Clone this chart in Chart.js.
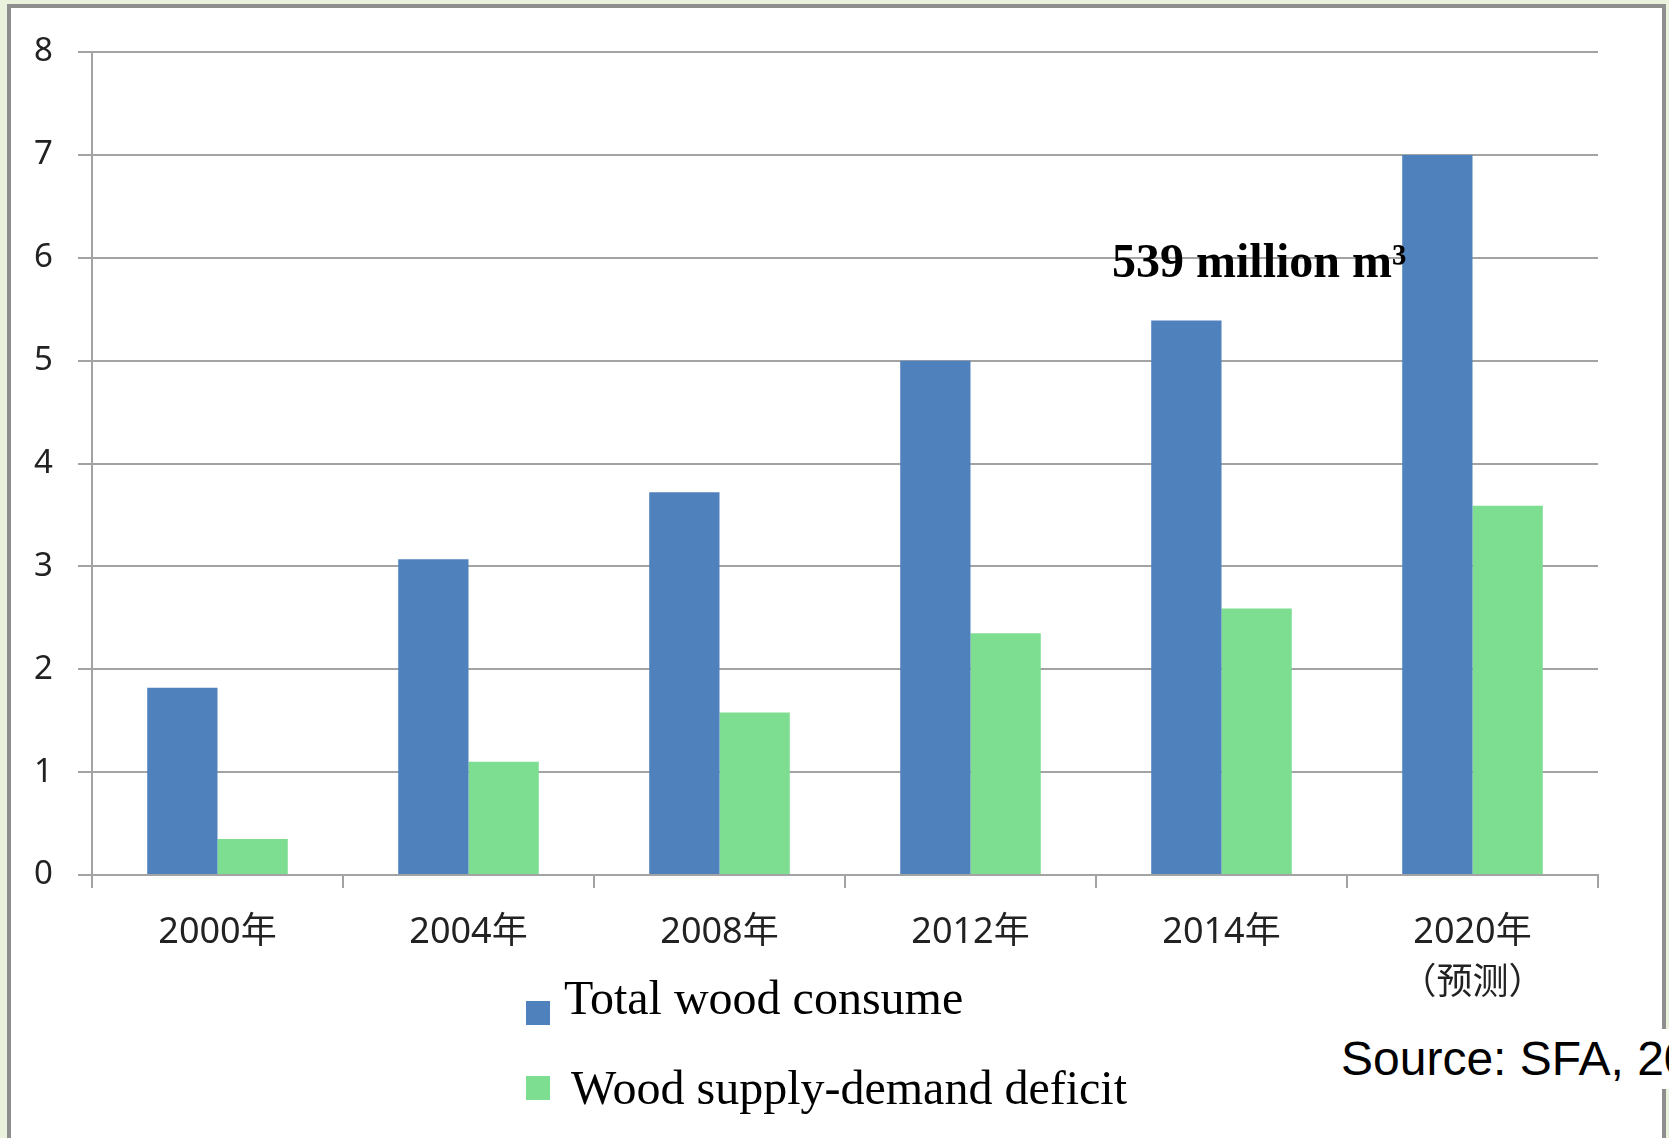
<!DOCTYPE html>
<html>
<head>
<meta charset="utf-8">
<script src="https://cdn.jsdelivr.net/npm/chart.js@4/dist/chart.umd.min.js"></script>
<style>
  html, body { margin: 0; padding: 0; }
  body {
    width: 1669px; height: 1138px; overflow: hidden;
    background: #eaf2de; position: relative;
  }
  .frame {
    position: absolute; left: 7px; top: 4px; width: 1651px; height: 1160px;
    border: 4px solid #8e8e8e; background: #fff;
  }
  #chart { position: absolute; left: 0; top: 0; }
  .txt { position: absolute; white-space: nowrap; color: #000; }
  .serif { font-family: "Liberation Serif", "Times New Roman", serif; }
  .swatch { position: absolute; width: 24px; height: 24px; }
  .note { font-weight: bold; font-size: 48px; line-height: 48px; }
  .legend { font-size: 48px; line-height: 48px; }
  .source {
    font-family: "Liberation Sans", Arial, sans-serif; font-size: 48px;
    line-height: 60px; background: #fff; padding-right: 20px;
  }
</style>
</head>
<body>
<div class="frame"></div>
<canvas id="chart" width="1669" height="1138"></canvas>

<div class="txt serif note" style="left:1112px; top:237px;">539 million m³</div>

<div class="swatch" style="left:526px; top:1001px; background:#4f81bd;"></div>
<div class="txt serif legend" style="left:564px; top:974px;">Total wood consume</div>
<div class="swatch" style="left:526px; top:1076px; background:#7ddd91;"></div>
<div class="txt serif legend" style="left:571px; top:1064px;">Wood supply-demand deficit</div>

<div class="txt source" style="left:1341px; top:1029px;">Source: SFA, 2015</div>

<script>
// categories (years), 2020 is a forecast
const years = ['2000年', '2004年', '2008年', '2012年', '2014年', ['2020年', '（预测）']];

// values in 100 million m³
const totalConsume = [1.82, 3.07, 3.72, 5.00, 5.39, 7.00];
const supplyDeficit = [0.35, 1.10, 1.58, 2.35, 2.59, 3.59];

const yTicks = [0, 1, 2, 3, 4, 5, 6, 7, 8];

const gridColor = '#a3a3a3';
const fontFamily = '"Noto Sans", "Noto Sans CJK SC", sans-serif';

new Chart(document.getElementById('chart'), {
    type: 'bar',
    data: {
        labels: years,
        datasets: [
            {
                label: 'Total wood consume',
                data: totalConsume,
                backgroundColor: '#4f81bd',
                barPercentage: 1,
                categoryPercentage: 0.56
            },
            {
                label: 'Wood supply-demand deficit',
                data: supplyDeficit,
                backgroundColor: '#7ddd91',
                barPercentage: 1,
                categoryPercentage: 0.56
            }
        ]
    },
    options: {
        responsive: false,
        animation: false,
        layout: {
            padding: { top: 52, right: 71, left: 0, bottom: 0 }
        },
        plugins: {
            legend: { display: false },
            tooltip: { enabled: false }
        },
        scales: {
            x: {
                grid: {
                    offset: true,
                    drawOnChartArea: false,
                    drawTicks: true,
                    tickLength: 13,
                    color: gridColor,
                    lineWidth: 2
                },
                border: { color: gridColor, width: 2 },
                ticks: {
                    font: { family: fontFamily, size: 36, lineHeight: 1.4 },
                    color: '#222',
                    padding: 20,
                    maxRotation: 0
                },
                afterFit(scale) {
                    scale.height = 1138 - 875;
                }
            },
            y: {
                min: 0,
                max: 8,
                afterBuildTicks(scale) {
                    scale.ticks = yTicks.map(v => ({ value: v }));
                },
                grid: {
                    color: gridColor,
                    lineWidth: 2,
                    tickLength: 14
                },
                border: { color: gridColor, width: 2 },
                ticks: {
                    font: { family: fontFamily, size: 33 },
                    color: '#222',
                    padding: 25
                },
                afterFit(scale) {
                    scale.width = 92;
                }
            }
        }
    }
});
</script>
</body>
</html>
